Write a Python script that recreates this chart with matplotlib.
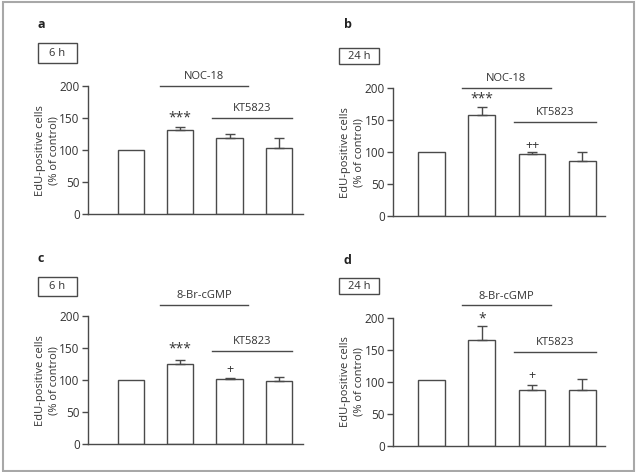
"""EdU-positive cells after NOC-18 / 8-Br-cGMP with and without KT5823 (4 panels)."""
import matplotlib
matplotlib.use("Agg")
import matplotlib.pyplot as plt
from matplotlib.patches import Rectangle

plt.rcParams["font.family"] = ["Open Sans", "DejaVu Sans"]

W, H = 636, 472
TXT = "#333333"
LN = "#4a4a4a"

# values (% of control), upward SEM
a_vals = [100, 132, 120, 104]
a_err = [0, 5, 6, 16]
b_vals = [100, 158, 98, 86]
b_err = [0, 13, 3, 15]
c_vals = [100, 125, 102, 98]
c_err = [0, 6, 1, 7]
d_vals = [103, 166, 87, 88]
d_err = [0, 21, 9, 17]

letters = ["a", "b", "c", "d"]
times = ["6 h", "24 h", "6 h", "24 h"]
agents = ["NOC-18", "NOC-18", "8-Br-cGMP", "8-Br-cGMP"]
yticks = [0, 50, 100, 150, 200]

# marks: (bar index, y, text)
marks = [
    [(1, 151, "***")],
    [(1, 183, "***"), (2, 111, "++")],
    [(1, 148, "***"), (2, 117, "+")],
    [(1, 198, "*"), (2, 110, "+")],
]

# panel geometry in pixels: x0, x1 of axis, y of 0 and y of 200
geom = [
    dict(x0=88, x1=303, y0=214.3, y200=86.3, lo=-0.87, hi=3.49, top=200, kt=150,
         lx=37, ly=25, box=(37.7, 43, 39.6, 20)),
    dict(x0=393.3, x1=605, y0=216.3, y200=88.3, lo=-0.76, hi=3.45, top=200, kt=148,
         lx=344, ly=25, box=(339, 48.3, 40, 16)),
    dict(x0=88, x1=303, y0=444.3, y200=316, lo=-0.87, hi=3.49, top=217, kt=145,
         lx=37, ly=259, box=(37.7, 277, 39.6, 19)),
    dict(x0=393.3, x1=605, y0=446.3, y200=317.7, lo=-0.76, hi=3.45, top=219, kt=147,
         lx=344, ly=260, box=(339, 278, 40, 16.3)),
]

fig = plt.figure(figsize=(W / 100, H / 100), dpi=100)
fig.patches.append(Rectangle((2.5 / W, 1.5 / H), 631 / W, 468.5 / H,
                             transform=fig.transFigure, fill=False,
                             ec="#a8a8a8", lw=1.5))

all_vals = [a_vals, b_vals, c_vals, d_vals]
all_err = [a_err, b_err, c_err, d_err]
xs = [0, 1, 2, 3]

for i, g in enumerate(geom):
    ax = fig.add_axes([g["x0"] / W, 1 - g["y0"] / H,
                       (g["x1"] - g["x0"]) / W, (g["y0"] - g["y200"]) / H])
    vals, err = all_vals[i], all_err[i]
    ax.bar(xs, vals, width=0.53, color="white", edgecolor=LN, lw=1.0, zorder=2)
    ex = [x for x, e in zip(xs, err) if e > 0]
    ev = [v for v, e in zip(vals, err) if e > 0]
    ee = [e for e in err if e > 0]
    ax.errorbar(ex, ev, yerr=[[0] * len(ee), ee], fmt="none", ecolor=LN,
                elinewidth=1.0, capsize=3.5, capthick=1.0, zorder=3)
    ax.set_xlim(g["lo"], g["hi"])
    ax.set_ylim(0, 200)
    ax.set_yticks(yticks)
    ax.set_xticks([])
    for s in ["top", "right"]:
        ax.spines[s].set_visible(False)
    for s in ["left", "bottom"]:
        ax.spines[s].set_color(LN)
        ax.spines[s].set_linewidth(1.0)
    ax.tick_params(axis="y", length=4, width=1.0, color=LN, labelsize=8.5,
                   labelcolor=TXT, pad=2)
    ax.patch.set_visible(False)
    ax.set_ylabel("EdU-positive cells\n(% of control)", fontsize=8, color=TXT,
                  linespacing=1.3)
    ax.yaxis.set_label_coords(-29 / (g["x1"] - g["x0"]), 0.5)

    # treatment lines
    ax.plot([0.6, 2.37], [g["top"]] * 2, color=LN, lw=1.0, clip_on=False)
    ax.text(1.485, g["top"] + 6, agents[i], ha="center", va="bottom",
            fontsize=8, color=TXT, clip_on=False)
    ax.plot([1.65, 3.27], [g["kt"]] * 2, color=LN, lw=1.0, clip_on=False)
    ax.text(2.46, g["kt"] + 6, "KT5823", ha="center", va="bottom",
            fontsize=8, color=TXT, clip_on=False)
    for bi, y, t in marks[i]:
        ax.text(bi, y, t, ha="center", va="center", fontsize=10 if "*" in t else 9,
                color=TXT, clip_on=False)

    # panel letter and time box
    fig.text(g["lx"] / W, 1 - g["ly"] / H, letters[i], fontsize=9,
             fontweight="bold", color="#222222", ha="left", va="center")
    bx, by, bw, bh = g["box"]
    fig.patches.append(Rectangle((bx / W, 1 - (by + bh) / H), bw / W, bh / H,
                                 transform=fig.transFigure, fill=False,
                                 ec=LN, lw=1.0))
    fig.text((bx + bw / 2) / W, 1 - (by + bh / 2) / H, times[i], fontsize=8,
             color=TXT, ha="center", va="center")

fig.savefig("out.png", dpi=100)
